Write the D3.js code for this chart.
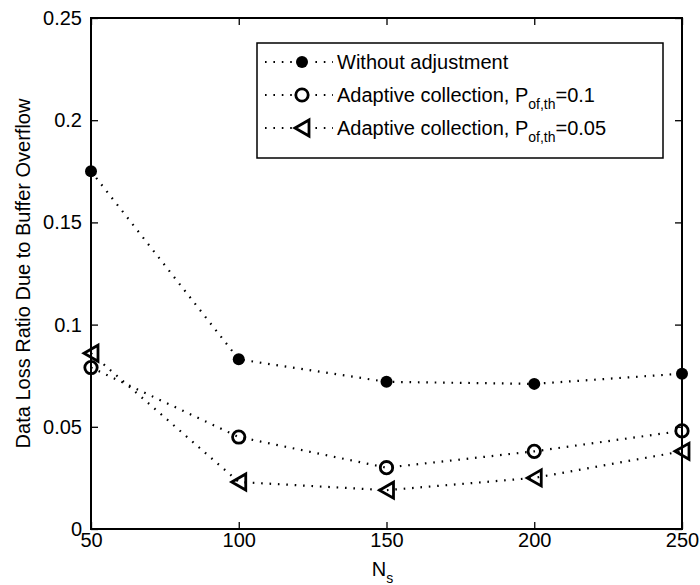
<!DOCTYPE html>
<html>
<head>
<meta charset="utf-8">
<script src="https://cdn.jsdelivr.net/npm/d3@7"></script>
<style>
  body { margin: 0; background: #fff; }
  text { font-family: "Liberation Sans", Arial, sans-serif; fill: #000; }
</style>
</head>
<body>
<svg id="chart" width="700" height="585"></svg>
<script>
// values
const nsValues = [50, 100, 150, 200, 250];
const withoutAdj = [0.175, 0.083, 0.072, 0.071, 0.076];
const adaptive01 = [0.079, 0.045, 0.030, 0.038, 0.048];
const adaptive005 = [0.086, 0.023, 0.019, 0.025, 0.038];
const xTicks = [50, 100, 150, 200, 250];
const yTicks = [0, 0.05, 0.1, 0.15, 0.2, 0.25];
const seriesNames = ["Without adjustment", "Adaptive collection, P", "Adaptive collection, P"];
const seriesSubs = ["", "of,th", "of,th"];
const seriesTails = ["", "=0.1", "=0.05"];

const margin = { top: 18, right: 18, bottom: 56, left: 91 };
const width = 700, height = 585;
const innerW = width - margin.left - margin.right;
const innerH = height - margin.top - margin.bottom;

const svg = d3.select("#chart");
const g = svg.append("g").attr("transform", `translate(${margin.left},${margin.top})`);

const x = d3.scaleLinear().domain([50, 250]).range([0, innerW]);
const y = d3.scaleLinear().domain([0, 0.25]).range([innerH, 0]);

// axes, matlab style box with inward ticks
const fs = 20;
const tick = 7;
g.append("g").attr("transform", `translate(0,${innerH})`)
  .call(d3.axisBottom(x).tickValues(xTicks).tickSizeInner(-tick).tickSizeOuter(0).tickPadding(4))
  .call(a => a.selectAll("text").attr("font-size", fs));
g.append("g")
  .call(d3.axisTop(x).tickValues(xTicks).tickSizeInner(-tick).tickSizeOuter(0).tickFormat(""));
g.append("g")
  .call(d3.axisLeft(y).tickValues(yTicks).tickSizeInner(-tick).tickSizeOuter(0).tickPadding(9)
    .tickFormat(d => d === 0 ? "0" : String(+d.toFixed(2))))
  .call(a => a.selectAll("text").attr("font-size", fs));
g.append("g").attr("transform", `translate(${innerW},0)`)
  .call(d3.axisRight(y).tickValues(yTicks).tickSizeInner(-tick).tickSizeOuter(0).tickFormat(""));
g.selectAll(".domain").remove();
g.selectAll(".tick line").attr("stroke", "#000").attr("stroke-width", 1.3);
g.append("rect").attr("width", innerW).attr("height", innerH)
  .attr("fill", "none").attr("stroke", "#000").attr("stroke-width", 2);

// axis labels
svg.append("text")
  .attr("transform", `translate(30,${margin.top + innerH / 2}) rotate(-90)`)
  .attr("text-anchor", "middle").attr("font-size", fs)
  .text("Data Loss Ratio Due to Buffer Overflow");
const xl = svg.append("text")
  .attr("x", margin.left + innerW / 2 - 4).attr("y", 576)
  .attr("text-anchor", "middle").attr("font-size", fs);
xl.append("tspan").text("N");
xl.append("tspan").attr("font-size", 14).attr("dy", 7).text("s");

// series
const series = [withoutAdj, adaptive01, adaptive005].map(vals => nsValues.map((n, i) => ({ n, v: vals[i] })));
const line = d3.line().x(d => x(d.n)).y(d => y(d.v));

const dotted = sel => sel.attr("fill", "none").attr("stroke", "#000")
  .attr("stroke-width", 2.2).attr("stroke-dasharray", "1.6,6.8").attr("stroke-linecap", "butt");

function marker(sel, k) {
  if (k === 0) {
    sel.append("circle").attr("r", 6).attr("fill", "#000");
  } else if (k === 1) {
    sel.append("circle").attr("r", 6.2).attr("fill", "none").attr("stroke", "#000").attr("stroke-width", 2.8);
  } else {
    sel.append("path").attr("d", "M-7,0L7,-8L7,8Z")
      .attr("fill", "none").attr("stroke", "#000").attr("stroke-width", 2.8).attr("stroke-linejoin", "miter");
  }
}

series.forEach((s, k) => {
  g.append("path").datum(s).attr("d", line).call(dotted);
  g.selectAll(null).data(s).join("g")
    .attr("transform", d => `translate(${x(d.n)},${y(d.v)})`)
    .each(function () { marker(d3.select(this), k); });
});

// legend
const lg = svg.append("g").attr("transform", "translate(257,43)");
lg.append("rect").attr("width", 406).attr("height", 115)
  .attr("fill", "#fff").attr("stroke", "#000").attr("stroke-width", 1.5);
const rowY = [19, 52, 85];
seriesNames.forEach((name, k) => {
  const r = lg.append("g").attr("transform", `translate(0,${rowY[k]})`);
  r.append("line").attr("x1", 8).attr("x2", 76).call(dotted);
  const m = r.append("g").attr("transform", "translate(45,0)");
  m.append("rect").attr("x", -9).attr("y", -9).attr("width", 18).attr("height", 18).attr("fill", "#fff");
  marker(m, k);
  const t = r.append("text").attr("x", 80).attr("dy", "0.36em").attr("font-size", fs);
  t.append("tspan").text(name);
  if (seriesSubs[k]) {
    t.append("tspan").attr("font-size", 14).attr("dy", 7).text(seriesSubs[k]);
    t.append("tspan").attr("dy", -7).text(seriesTails[k]);
  }
});
</script>
</body>
</html>
